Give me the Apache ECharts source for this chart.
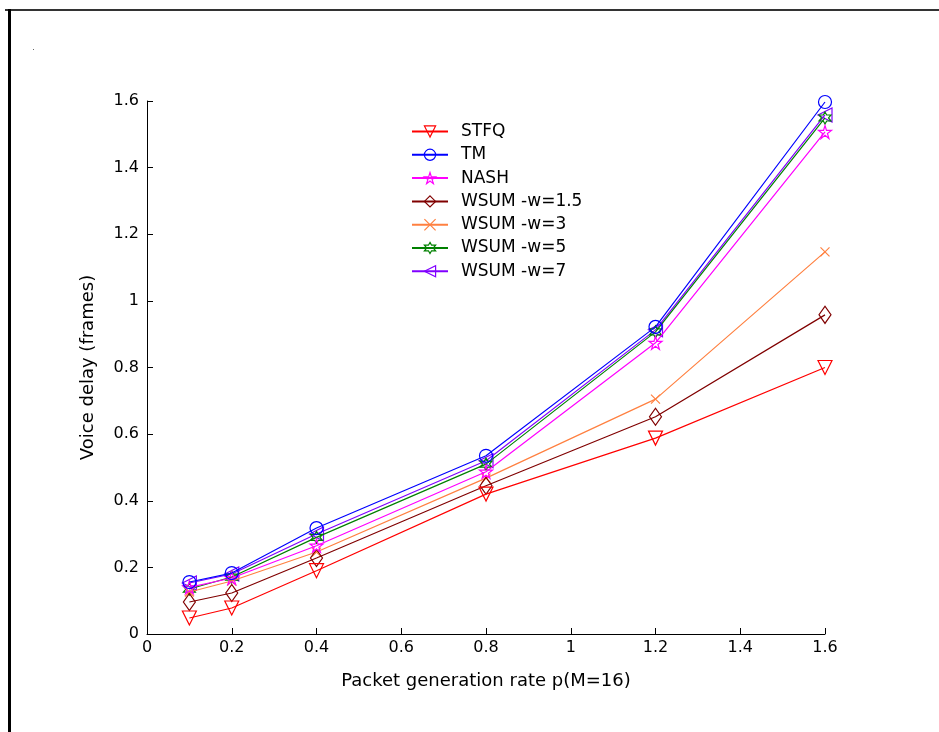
<!DOCTYPE html>
<html>
<head>
<meta charset="utf-8">
<style>
html,body{margin:0;padding:0;background:#fff;}
#chart{width:939px;height:732px;}
</style>
<script src="https://cdn.jsdelivr.net/npm/echarts@6/dist/echarts.min.js"></script>
</head>
<body>
<div id="chart"></div>
<script>
const xValues = [0.1, 0.2, 0.4, 0.8, 1.2, 1.6];
const seriesNames = ['STFQ', 'TM', 'NASH', 'WSUM -w=1.5', 'WSUM -w=3', 'WSUM -w=5', 'WSUM -w=7'];
const stfq   = [0.048, 0.078, 0.19, 0.42, 0.588, 0.80];
const tm     = [0.156, 0.183, 0.318, 0.535, 0.922, 1.597];
const nash   = [0.14, 0.168, 0.265, 0.487, 0.874, 1.507];
const wsum15 = [0.096, 0.123, 0.228, 0.445, 0.652, 0.958];
const wsum3  = [0.126, 0.159, 0.246, 0.468, 0.705, 1.147];
const wsum5  = [0.135, 0.171, 0.29, 0.51, 0.907, 1.549];
const wsum7  = [0.153, 0.18, 0.30, 0.52, 0.913, 1.558];
const xTicks = [0, 0.2, 0.4, 0.6, 0.8, 1, 1.2, 1.4, 1.6];
const yTicks = [0, 0.2, 0.4, 0.6, 0.8, 1, 1.2, 1.4, 1.6];

const colors = ['#ff0000', '#0000ff', '#ff00ff', '#800000', '#ff8040', '#008000', '#8000ff'];
const allData = [stfq, tm, nash, wsum15, wsum3, wsum5, wsum7];

const starPath = 'path://M50,0 L61,35 L98,35 L68,57 L79,92 L50,70 L21,92 L32,57 L2,35 L39,35 Z';
const crossPath = 'path://M0,0 L100,100 M100,0 L0,100';
const hexPath = 'path://M50,0 L62,25 L93,25 L75,50 L93,75 L62,75 L50,100 L38,75 L7,75 L25,50 L7,25 L38,25 Z';
const symbols = [
  {symbol: 'triangle', rotate: 180, size: 14},
  {symbol: 'circle', rotate: 0, size: 13},
  {symbol: starPath, rotate: 0, size: 13},
  {symbol: 'diamond', rotate: 0, size: [12, 17]},
  {symbol: crossPath, rotate: 0, size: 9},
  {symbol: hexPath, rotate: 0, size: 12},
  {symbol: 'triangle', rotate: 90, size: 14}
];

const series = seriesNames.map((name, i) => ({
  name: name,
  type: 'line',
  data: xValues.map((x, j) => [x, allData[i][j]]),
  symbol: symbols[i].symbol,
  symbolSize: symbols[i].size,
  symbolRotate: symbols[i].rotate,
  showAllSymbol: true,
  lineStyle: {color: colors[i], width: 1.2},
  itemStyle: {color: 'rgba(255,255,255,0)', borderColor: colors[i], borderWidth: 1.2},
  emphasis: {disabled: true},
  animation: false,
  z: 10 - i
}));

const chart = echarts.init(document.getElementById('chart'));
const font = 'DejaVu Sans';
chart.setOption({
  backgroundColor: '#ffffff',
  animation: false,
  color: colors,
  grid: {left: 147, right: 114, top: 101, bottom: 98, containLabel: false},
  legend: {
    orient: 'vertical',
    left: 406,
    top: 118,
    itemWidth: 36,
    itemHeight: 14,
    itemGap: 6.3,
    textStyle: {fontFamily: font, fontSize: 17, lineHeight: 16, color: '#000', padding: [0, 0, 0, 8]},
    data: seriesNames.map((n, i) => ({name: n, itemStyle: {color: 'rgba(255,255,255,0)', borderColor: colors[i], borderWidth: 1.2}}))
  },
  xAxis: {
    type: 'value',
    min: 0, max: 1.6, interval: 0.2,
    name: 'Packet generation rate p(M=16)',
    nameLocation: 'middle',
    nameGap: 38,
    nameTextStyle: {fontFamily: font, fontSize: 18, color: '#000'},
    axisLine: {show: true, lineStyle: {color: '#000', width: 1}},
    axisTick: {show: true, inside: true, length: 6, lineStyle: {color: '#000'}},
    axisLabel: {fontFamily: font, fontSize: 16, color: '#000', margin: 6,
      formatter: v => { const t = xTicks.find(a => Math.abs(a - v) < 1e-9); return t === undefined ? '' : String(t); }},
    splitLine: {show: false}
  },
  yAxis: {
    type: 'value',
    min: 0, max: 1.6, interval: 0.2,
    name: 'Voice delay (frames)',
    nameLocation: 'middle',
    nameGap: 50,
    nameTextStyle: {fontFamily: font, fontSize: 18, color: '#000'},
    axisLine: {show: true, lineStyle: {color: '#000', width: 1}},
    axisTick: {show: true, inside: true, length: 6, lineStyle: {color: '#000'}},
    axisLabel: {fontFamily: font, fontSize: 16, color: '#000', margin: 8,
      formatter: v => { const t = yTicks.find(a => Math.abs(a - v) < 1e-9); return t === undefined ? '' : String(t); }},
    splitLine: {show: false}
  },
  graphic: [
    {type: 'rect', shape: {x: 5, y: 9, width: 934, height: 2}, style: {fill: '#333'}, silent: true},
    {type: 'rect', shape: {x: 8, y: 9, width: 3, height: 723}, style: {fill: '#000'}, silent: true},
    {type: 'rect', shape: {x: 33, y: 49, width: 1, height: 1}, style: {fill: '#666'}, silent: true}
  ],
  series: series
});
</script>
</body>
</html>
